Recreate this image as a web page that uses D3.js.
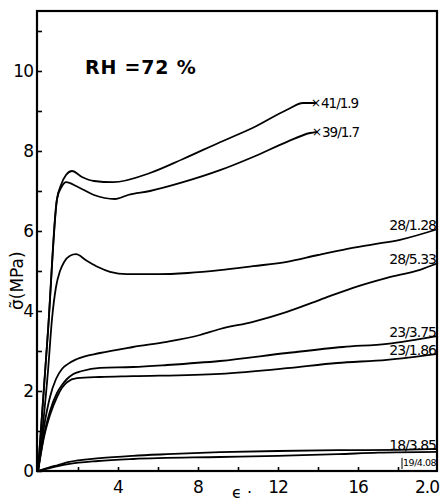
<!DOCTYPE html>
<html><head><meta charset="utf-8">
<script src="https://cdn.jsdelivr.net/npm/d3@7"></script>
<style>body{margin:0;background:#fff;} svg{display:block;} text{font-family:"DejaVu Sans",sans-serif;fill:#000;}</style>
</head><body><svg id="c" width="440" height="502"></svg>
<script>
// ---- data ----
const seriesNames = ["41/1.9","39/1.7","28/1.28","28/5.33","23/3.75","23/1.86","18/3.85","19/4.08"];
const strain41 = [0,0.5,0.95,1.15,1.4,1.7,2.2,2.8,3.75,5.6,7.25,9.1,10.75,12.45,13.25,13.9];
const stress41 = [0,3.5,6.8,7.15,7.4,7.5,7.35,7.25,7.22,7.45,7.8,8.22,8.58,9.03,9.2,9.2];
const strain39 = [0,0.5,0.95,1.2,1.4,2.0,2.8,3.85,4.5,5.6,7.25,9.1,10.75,12.45,13.6,13.95];
const stress39 = [0,3.5,6.8,7.12,7.22,7.1,6.9,6.8,6.9,7.0,7.22,7.52,7.85,8.23,8.45,8.48];
const strain28a = [0,0.5,0.7,0.9,1.1,1.3,1.6,1.9,2.4,3.0,3.6,4.45,6,7.5,9.1,10.75,12.45,14,15.25,16.7,18.1,20];
const stress28a = [0,2.5,3.8,4.6,5.0,5.22,5.38,5.42,5.27,5.1,4.98,4.92,4.92,4.95,5.02,5.12,5.23,5.4,5.53,5.66,5.78,6.05];
const strain28b = [0,0.3,0.6,0.9,1.2,1.45,1.95,3.1,4.75,6.45,8.1,9.1,10.75,12.45,14.1,15.75,17.45,19.1,20];
const stress28b = [0,1.1,1.85,2.3,2.55,2.66,2.8,2.95,3.1,3.23,3.4,3.55,3.73,3.98,4.28,4.58,4.83,5.03,5.2];
const strain23a = [0,0.3,0.6,0.95,1.2,1.45,1.75,2.2,3.1,4.75,6.45,9.1,12.45,15.25,17.45,20];
const stress23a = [0,0.9,1.5,1.95,2.15,2.3,2.42,2.5,2.58,2.6,2.65,2.75,2.95,3.1,3.18,3.38];
const strain23b = [0,0.3,0.6,0.95,1.2,1.45,1.95,3.1,4.75,9.1,12.45,14.95,17.45,20];
const stress23b = [0,0.85,1.4,1.85,2.08,2.22,2.32,2.35,2.37,2.43,2.57,2.7,2.78,2.93];
const strain18 = [0,0.5,1,1.5,3.1,4.75,6.45,9.1,12,15,18,20];
const stress18 = [0,0.08,0.15,0.22,0.32,0.38,0.42,0.47,0.5,0.52,0.53,0.55];
const strain19 = [0,1,1.5,3,4.75,9.1,12,15,17,20];
const stress19 = [0,0.12,0.17,0.25,0.3,0.35,0.38,0.42,0.46,0.48];
const brokenSeries = ["41/1.9","39/1.7"];
const xTickValues = [4,8,12,16,20];
const xTickLabels = ["4","8","12","16","2.0"];
const yTickValues = [0,2,4,6,8,10];
const yTickLabels = ["0","2","4","6","8","10"];
const titleText = "RH =72 %";
const yTitle = "σ̃(MPa)";
const xTitle = "ϵ";

// ---- build ----
const strains = [strain41,strain39,strain28a,strain28b,strain23a,strain23b,strain18,strain19];
const stresses = [stress41,stress39,stress28a,stress28b,stress23a,stress23b,stress18,stress19];
const series = seriesNames.map((n,i)=>({name:n, pts: strains[i].map((x,j)=>[x,stresses[i][j]])}));

const svg = d3.select("#c");
const x = d3.scaleLinear().domain([0,20]).range([38,438]);
const y = d3.scaleLinear().domain([0,11.5]).range([471,11]);

// frame
svg.append("rect").attr("x",x(0)-1).attr("y",y(11.5)).attr("width",x(20)-x(0)).attr("height",y(0)-y(11.5))
  .attr("fill","none").attr("stroke","#000").attr("stroke-width",2.2);

// y axis ticks inside
const yAx = svg.append("g").attr("transform",`translate(${x(0)-1},0)`)
  .call(d3.axisRight(y).tickValues(d3.range(0,12,1)).tickSize(5).tickFormat(""));
yAx.select(".domain").remove();
yAx.selectAll("line").attr("stroke","#000").attr("stroke-width",1.6);
svg.selectAll(".ylab").data(yTickValues).enter().append("text")
  .attr("x",33).attr("y",d=>y(d)).attr("dy","0.36em").attr("text-anchor","end")
  .attr("font-size",17).attr("letter-spacing",-1).text((d,i)=>yTickLabels[i]);

// x axis ticks inside
const xAx = svg.append("g").attr("transform",`translate(0,${y(0)})`)
  .call(d3.axisTop(x).tickValues(d3.range(2,20,2)).tickSize(4).tickFormat(""));
xAx.select(".domain").remove();
xAx.selectAll("line").attr("stroke","#000").attr("stroke-width",1.6);
svg.selectAll(".xlab").data(xTickValues).enter().append("text")
  .attr("x",(d)=> d===20 ? x(d)+1 : x(d)).attr("y",493)
  .attr("text-anchor",d=> d===20 ? "end":"middle")
  .attr("font-size",17).attr("letter-spacing",-1).text((d,i)=>xTickLabels[i]);

// curves
const line = d3.line().x(d=>x(d[0])).y(d=>y(d[1])).curve(d3.curveMonotoneX);
svg.selectAll(".curve").data(series).enter().append("path")
  .attr("d",d=>line(d.pts)).attr("fill","none").attr("stroke","#000").attr("stroke-width",1.8);

// labels
series.forEach((s,i)=>{
  const last = s.pts[s.pts.length-1];
  if (brokenSeries.includes(s.name)) {
    const mx = x(last[0]), my = y(last[1]);
    svg.append("text").attr("x",mx).attr("y",my).attr("dy","0.33em").attr("text-anchor","middle")
      .attr("font-size",12).text("×");
    svg.append("text").attr("x",mx+5).attr("y",my+5).attr("font-size",13.5).attr("letter-spacing",-1).text(s.name);
  } else if (i === series.length-1) {
    svg.append("line").attr("x1",x(18.2)).attr("x2",x(18.2)).attr("y1",y(last[1])+6).attr("y2",y(0)-2)
      .attr("stroke","#000").attr("stroke-width",1);
    svg.append("text").attr("x",x(20)-2).attr("y",y(last[1])+14).attr("text-anchor","end")
      .attr("font-size",9.5).attr("letter-spacing",-0.5).text(s.name);
  } else {
    svg.append("text").attr("x",x(20)-2).attr("y",y(last[1])+1).attr("text-anchor","end")
      .attr("font-size",14).attr("letter-spacing",-1).text(s.name);
  }
});

// title
svg.append("text").attr("x",85).attr("y",74).attr("font-size",19).attr("font-weight","bold")
  .attr("letter-spacing",0.8).text(titleText);
// axis titles
svg.append("text").attr("transform","translate(23,310) rotate(-90)").attr("font-size",17).text(yTitle);
svg.append("text").attr("x",232).attr("y",498).attr("font-size",16).text(xTitle + " ·");
</script></body></html>
